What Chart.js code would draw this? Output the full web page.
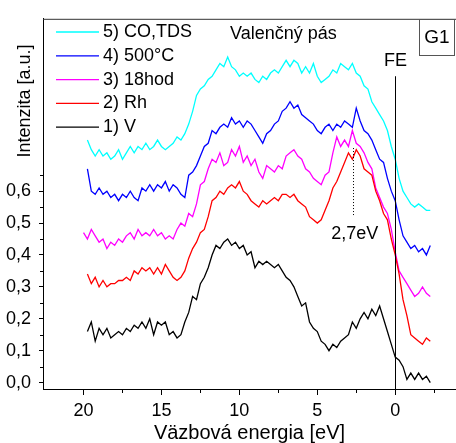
<!DOCTYPE html>
<html>
<head>
<meta charset="utf-8">
<script src="https://cdn.jsdelivr.net/npm/chart.js@4.4.0/dist/chart.umd.min.js"></script>
<style>
  html, body { margin: 0; padding: 0; background: #fff; }
  #wrap { width: 456px; height: 443px; }
</style>
</head>
<body>
<div id="wrap"><canvas id="c" width="456" height="443"></canvas></div>
<script>
// väzbová energia [eV], spoločná mriežka
const energy = [20,19.75,19.5,19.25,19,18.75,18.5,18.25,18,17.75,17.5,17.25,17,16.75,16.5,16.25,16,15.75,15.5,15.25,
  15,14.75,14.5,14.25,14,13.75,13.5,13.25,13,12.75,12.5,12.25,12,11.75,11.5,11.25,11,10.75,10.5,10.25,
  10,9.75,9.5,9.25,9,8.75,8.5,8.25,8,7.75,7.5,7.25,7,6.75,6.5,6.25,6,5.75,5.5,5.25,
  5,4.75,4.5,4.25,4,3.75,3.5,3.25,3,2.75,2.5,2.25,2,1.75,1.5,1.25,1,0.75,0.5,0.25,
  0,-0.25,-0.5,-0.75,-1,-1.25,-1.5,-1.75,-2,-2.25];

const seriesLabels = ['1) V', '2) Rh', '3) 18hod', '4) 500°C', '5) CO,TDS'];
const seriesColors = ['#000000', '#ff0000', '#ff00ff', '#0000ff', '#00ffff'];

const intV = [null,
  0.16,0.19,0.13,0.17,0.15,0.17,0.14,0.15,0.16,0.15,
  0.17,0.16,0.18,0.17,0.19,0.17,0.20,0.15,0.19,0.18,
  0.19,0.15,0.16,0.14,0.15,0.19,0.22,0.27,0.26,0.31,
  0.33,0.36,0.40,0.43,0.42,0.44,0.45,0.43,0.44,0.42,
  0.43,0.40,0.41,0.36,0.38,0.37,0.38,0.37,0.36,0.37,
  0.35,0.33,0.32,0.30,0.27,0.24,0.25,0.19,0.17,0.16,
  0.13,0.12,0.10,0.12,0.11,0.13,0.14,0.15,0.19,0.17,
  0.20,0.22,0.20,0.23,0.21,0.24,0.20,0.16,0.12,0.08,
  0.07,0.05,0.01,0.03,0.01,0.03,0.01,0.02,0.00];

const intRh = [null,
  0.34,0.31,0.33,0.30,0.32,0.30,0.31,0.31,0.32,0.32,
  0.33,0.32,0.35,0.34,0.36,0.35,0.36,0.34,0.36,0.34,
  0.37,0.35,0.33,0.32,0.33,0.35,0.39,0.42,0.44,0.47,
  0.48,0.52,0.57,0.58,0.60,0.59,0.61,0.62,0.61,0.63,
  0.60,0.59,0.57,0.56,0.55,0.57,0.56,0.57,0.58,0.57,
  0.59,0.59,0.58,0.59,0.57,0.56,0.55,0.52,0.51,0.50,
  0.51,0.54,0.57,0.61,0.63,0.66,0.69,0.72,0.70,0.73,
  0.71,0.67,0.66,0.65,0.60,0.57,0.53,0.51,0.45,0.40,
  0.34,0.26,0.21,0.15,0.14,0.13,0.12,0.14,0.13];

const int18hod = [
  0.47,0.45,0.48,0.46,0.44,0.45,0.42,0.44,0.43,0.45,
  0.44,0.46,0.47,0.45,0.48,0.46,0.47,0.46,0.48,0.46,
  0.47,0.45,0.46,0.45,0.48,0.50,0.49,0.53,0.52,0.56,
  0.62,0.63,0.67,0.70,0.69,0.72,0.68,0.69,0.73,0.71,
  0.74,0.69,0.71,0.68,0.70,0.66,0.64,0.68,0.67,0.66,
  0.68,0.67,0.71,0.72,0.73,0.71,0.70,0.67,0.66,0.64,
  0.63,0.62,0.65,0.66,0.72,0.77,0.74,0.76,0.74,0.79,
  0.75,0.74,0.72,0.69,0.67,0.61,0.58,0.55,0.53,0.48,
  0.41,0.35,0.33,0.31,0.29,0.27,0.28,0.30,0.28,0.27];

const int500 = [null,
  0.67,0.60,0.59,0.61,0.59,0.60,0.58,0.59,0.57,0.59,
  0.58,0.60,0.58,0.57,0.61,0.60,0.62,0.60,0.62,0.61,
  0.63,0.60,0.62,0.61,0.59,0.58,0.65,0.66,0.68,0.71,
  0.74,0.75,0.79,0.78,0.80,0.81,0.80,0.83,0.81,0.82,
  0.80,0.82,0.81,0.79,0.77,0.75,0.78,0.79,0.81,0.82,
  0.85,0.86,0.88,0.86,0.87,0.84,0.83,0.82,0.81,0.79,
  0.78,0.80,0.81,0.79,0.81,0.80,0.82,0.81,0.80,0.86,
  0.82,0.79,0.78,0.76,0.73,0.70,0.69,0.64,0.60,0.57,
  0.51,0.46,0.44,0.42,0.43,0.41,0.42,0.40,0.43];

const intCO = [null,
  0.76,0.73,0.71,0.73,0.71,0.72,0.70,0.71,0.73,0.70,
  0.72,0.74,0.72,0.74,0.73,0.75,0.73,0.74,0.76,0.74,
  0.73,0.74,0.75,0.77,0.76,0.78,0.81,0.85,0.90,0.92,
  0.93,0.95,0.96,0.98,1.00,0.99,1.02,0.99,0.98,0.96,
  0.97,0.96,0.97,0.95,0.94,0.96,0.95,0.97,0.98,0.97,
  0.99,1.01,0.99,1.01,1.00,0.97,0.99,0.97,1.00,0.96,
  0.94,0.95,0.96,0.98,0.97,1.00,0.99,0.98,1.00,0.97,
  0.96,0.93,0.92,0.88,0.86,0.84,0.82,0.79,0.74,0.70,
  0.64,0.60,0.58,0.56,0.55,0.56,0.55,0.54,0.54];

const xTicks = [20, 15, 10, 5, 0];
const xMinor = [17.5, 12.5, 7.5, 2.5, -2.5];
const yTicks = [0, 0.1, 0.2, 0.3, 0.4, 0.5, 0.6];
const yMinor = [0.05, 0.15, 0.25, 0.35, 0.45, 0.55, 0.65];

const FONT = "'Liberation Sans', Arial, sans-serif";
const allSeries = [intV, intRh, int18hod, int500, intCO];

const datasets = allSeries.map((vals, i) => ({
  label: seriesLabels[i],
  data: vals.map((v, k) => ({ x: energy[k], y: v })),
  borderColor: seriesColors[i],
  borderWidth: 1.3,
  pointRadius: 0,
  tension: 0,
  fill: false,
}));

// dekorácie: rámik, vedľajšie tiky, FE, popisy, legenda
const decor = {
  id: 'decor',
  afterDraw(chart) {
    const { ctx, chartArea: ca, scales: { x, y } } = chart;
    ctx.save();
    // horný okraj
    ctx.strokeStyle = '#333';
    ctx.lineWidth = 1;
    ctx.beginPath();
    ctx.moveTo(ca.left, ca.top + 0.5);
    ctx.lineTo(chart.width, ca.top + 0.5);
    ctx.stroke();

    // vedľajšie tiky
    ctx.strokeStyle = '#000';
    ctx.beginPath();
    xMinor.forEach((v) => {
      const px = Math.round(x.getPixelForValue(v)) + 0.5;
      ctx.moveTo(px, ca.bottom);
      ctx.lineTo(px, ca.bottom + 4);
    });
    yMinor.forEach((v) => {
      const py = Math.round(y.getPixelForValue(v)) + 0.5;
      ctx.moveTo(ca.left - 3, py);
      ctx.lineTo(ca.left, py);
    });
    ctx.stroke();

    // Fermiho hrana
    const fx = Math.round(x.getPixelForValue(0)) + 0.5;
    ctx.beginPath();
    ctx.moveTo(fx, y.getPixelForValue(0.96));
    ctx.lineTo(fx, ca.bottom);
    ctx.stroke();

    // bodkovaná čiara pri 2,7 eV
    const dx = Math.round(x.getPixelForValue(2.7)) + 0.5;
    ctx.setLineDash([1, 2]);
    ctx.beginPath();
    ctx.moveTo(dx, y.getPixelForValue(0.735));
    ctx.lineTo(dx, y.getPixelForValue(0.52));
    ctx.stroke();
    ctx.setLineDash([]);

    ctx.fillStyle = '#000';
    ctx.textBaseline = 'middle';
    ctx.font = '18px ' + FONT;
    ctx.textAlign = 'center';
    ctx.fillText('FE', fx, y.getPixelForValue(1.007));
    ctx.fillText('2,7eV', x.getPixelForValue(2.6), y.getPixelForValue(0.466));
    ctx.textAlign = 'left';
    ctx.fillText('Valenčný pás', 230, 34);

    // G1
    ctx.strokeStyle = '#555';
    ctx.strokeRect(419.5, 19.5, 35, 36);
    ctx.textAlign = 'center';
    ctx.font = '19px ' + FONT;
    ctx.fillText('G1', 437, 38);

    // legenda (5 hore)
    ctx.font = '18px ' + FONT;
    ctx.textAlign = 'left';
    ctx.lineWidth = 1.3;
    for (let i = 0; i < seriesLabels.length; i++) {
      const k = seriesLabels.length - 1 - i;
      const ry = 32 + i * 23.8;
      ctx.strokeStyle = seriesColors[k];
      ctx.beginPath();
      ctx.moveTo(56, ry);
      ctx.lineTo(99, ry);
      ctx.stroke();
      ctx.fillText(seriesLabels[k], 103, ry);
    }

    // názov osi y
    ctx.translate(25, 101);
    ctx.rotate(-Math.PI / 2);
    ctx.textAlign = 'center';
    ctx.fillText('Intenzita [a.u.]', 0, 0);
    ctx.restore();
  },
};

new Chart(document.getElementById('c'), {
  type: 'line',
  data: { datasets },
  plugins: [decor],
  options: {
    responsive: false,
    animation: false,
    layout: { padding: { top: 14, left: 0, right: 0, bottom: 0 } },
    plugins: { legend: { display: false }, tooltip: { enabled: false } },
    scales: {
      x: {
        type: 'linear',
        reverse: true,
        min: -3.9,
        max: 22.6,
        afterBuildTicks: (s) => { s.ticks = xTicks.map((v) => ({ value: v })); },
        afterFit: (s) => { s.height = 54; },
        ticks: { color: '#000', font: { family: FONT, size: 18 }, padding: 5, maxRotation: 0, autoSkip: false,
          callback: (v) => String(v) },
        grid: { drawOnChartArea: false, tickLength: 6, tickColor: '#000', tickWidth: 1 },
        border: { color: '#000', width: 1 },
        title: { display: true, text: 'Väzbová energia [eV]', color: '#000',
          font: { family: FONT, size: 20, lineHeight: 1 }, padding: { top: 0, bottom: 0 } },
      },
      y: {
        min: -0.02,
        max: 1.14,
        afterBuildTicks: (s) => { s.ticks = yTicks.map((v) => ({ value: v })); },
        afterFit: (s) => { s.width = 43; },
        ticks: { color: '#000', font: { family: FONT, size: 18 }, padding: 8,
          callback: (v) => v.toFixed(1).replace('.', ',') },
        grid: { drawOnChartArea: false, tickLength: 4, tickColor: '#000', tickWidth: 1 },
        border: { color: '#000', width: 1 },
      },
    },
  },
});
</script>
</body>
</html>
